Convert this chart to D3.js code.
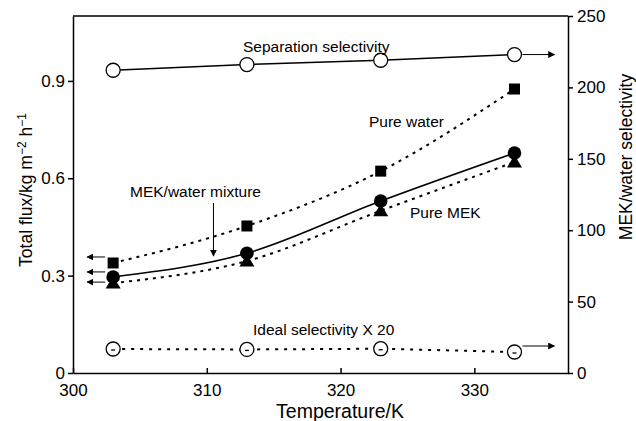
<!DOCTYPE html>
<html lang="en">
<head>
  <meta charset="UTF-8" />
  <title>Flux and selectivity vs temperature</title>
  <script src="https://d3js.org/d3.v7.min.js"></script>
  <style>
    body { margin: 0; background: #fff; }
    svg { display: block; font-family: "Liberation Sans", Arial, sans-serif; }
    .axis path, .axis line { stroke: #000; stroke-width: 1.5px; }
    .axis text { font-size: 17px; fill: #000; }
    .note { font-size: 15.5px; fill: #000; }
    .title { font-size: 19.5px; fill: #000; }
  </style>
</head>
<body>
  <svg id="chart" width="636" height="421"></svg>
  <script>
    // temperatures (K)
    const temps = [303, 313, 323, 333];
    // left axis: total flux, kg m-2 h-1
    const pureWater = [0.339, 0.453, 0.622, 0.875];
    const mixture   = [0.296, 0.369, 0.530, 0.678];
    const pureMEK   = [0.277, 0.345, 0.500, 0.650];
    // right axis: MEK/water selectivity
    const sepSel   = [212, 216, 219, 223];
    const idealSel = [16.8, 16.5, 17, 14.7];

    const xTicks = [300, 310, 320, 330];
    const yLeftTicks = [0, 0.3, 0.6, 0.9];
    const yRightTicks = [0, 50, 100, 150, 200, 250];

    const svg = d3.select("#chart");
    const plotL = 73, plotR = 568, plotT = 16, plotB = 373;

    const x = d3.scaleLinear().domain([300, 337]).range([plotL, plotR]);
    const yL = d3.scaleLinear().domain([0, 1.1]).range([plotB, plotT]);
    const yR = d3.scaleLinear().domain([0, 250]).range([plotB, plotT]);

    // arrow head
    svg.append("defs").append("marker")
      .attr("id", "head")
      .attr("viewBox", "0 0 10 10")
      .attr("refX", 9).attr("refY", 5)
      .attr("markerWidth", 7).attr("markerHeight", 7)
      .attr("markerUnits", "userSpaceOnUse")
      .attr("orient", "auto")
      .append("path").attr("d", "M0,0 L10,5 L0,10 Z").attr("fill", "#000");

    // frame top line
    svg.append("line")
      .attr("x1", plotL).attr("x2", plotR).attr("y1", plotT).attr("y2", plotT)
      .attr("stroke", "#000").attr("stroke-width", 1.5);

    // axes
    svg.append("g").attr("class", "axis")
      .attr("transform", `translate(0,${plotB})`)
      .call(d3.axisBottom(x).tickValues(xTicks).tickSize(-5).tickPadding(11).tickSizeOuter(0));

    svg.append("g").attr("class", "axis")
      .attr("transform", `translate(${plotL},0)`)
      .call(d3.axisLeft(yL).tickValues(yLeftTicks).tickSize(5).tickPadding(3).tickSizeOuter(0)
        .tickFormat(d => d === 0 ? "0" : d3.format(".1f")(d)));

    svg.append("g").attr("class", "axis")
      .attr("transform", `translate(${plotR},0)`)
      .call(d3.axisRight(yR).tickValues(yRightTicks).tickSize(5).tickPadding(4).tickSizeOuter(0));

    // axis titles
    svg.append("text").attr("class", "title")
      .attr("x", 340).attr("y", 418).attr("text-anchor", "middle")
      .text("Temperature/K");

    const lt = svg.append("text").attr("class", "title")
      .attr("transform", "translate(32,190) rotate(-90)")
      .attr("text-anchor", "middle").style("font-size", "17.5px");
    lt.append("tspan").text("Total flux/kg m");
    lt.append("tspan").attr("dy", -6).style("font-size", "12px").text("\u22122");
    lt.append("tspan").attr("dy", 6).text(" h");
    lt.append("tspan").attr("dy", -6).style("font-size", "12px").text("\u22121");

    svg.append("text").attr("class", "title")
      .attr("transform", "translate(632,157) rotate(-90)")
      .attr("text-anchor", "middle").style("font-size", "17.5px")
      .text("MEK/water selectivity");

    // lines
    const lineL = vals => d3.line().x((d, i) => x(temps[i])).y(d => yL(d)).curve(d3.curveMonotoneX)(vals);
    const lineR = vals => d3.line().x((d, i) => x(temps[i])).y(d => yR(d))(vals);

    svg.append("path").attr("d", lineL(pureWater)).attr("fill", "none")
      .attr("stroke", "#000").attr("stroke-width", 2).attr("stroke-dasharray", "3,5");
    svg.append("path").attr("d", lineL(pureMEK)).attr("fill", "none")
      .attr("stroke", "#000").attr("stroke-width", 2).attr("stroke-dasharray", "3,5");
    svg.append("path").attr("d", lineL(mixture)).attr("fill", "none")
      .attr("stroke", "#000").attr("stroke-width", 1.6);
    svg.append("path").attr("d", lineR(sepSel)).attr("fill", "none")
      .attr("stroke", "#000").attr("stroke-width", 1.5);
    svg.append("path").attr("d", lineR(idealSel)).attr("fill", "none")
      .attr("stroke", "#000").attr("stroke-width", 2).attr("stroke-dasharray", "3,6");

    // markers
    svg.append("g").selectAll("rect").data(pureWater).join("rect")
      .attr("x", (d, i) => x(temps[i]) - 5.5).attr("y", d => yL(d) - 5.5)
      .attr("width", 11).attr("height", 11).attr("fill", "#000");

    svg.append("g").selectAll("path").data(pureMEK).join("path")
      .attr("transform", (d, i) => `translate(${x(temps[i])},${yL(d)})`)
      .attr("d", "M0,-7 L7.5,5.5 L-7.5,5.5 Z").attr("fill", "#000");

    svg.append("g").selectAll("circle").data(mixture).join("circle")
      .attr("cx", (d, i) => x(temps[i])).attr("cy", d => yL(d))
      .attr("r", 6.8).attr("fill", "#000");

    svg.append("g").selectAll("circle").data(sepSel).join("circle")
      .attr("cx", (d, i) => x(temps[i])).attr("cy", d => yR(d))
      .attr("r", 7).attr("fill", "#fff").attr("stroke", "#000").attr("stroke-width", 1.3);

    const ideal = svg.append("g").selectAll("g").data(idealSel).join("g")
      .attr("transform", (d, i) => `translate(${x(temps[i])},${yR(d)})`);
    ideal.append("circle").attr("r", 7).attr("fill", "#fff")
      .attr("stroke", "#000").attr("stroke-width", 1.3);
    ideal.append("line").attr("x1", -2).attr("x2", 2).attr("y1", 1).attr("y2", 1)
      .attr("stroke", "#000").attr("stroke-width", 1.3);

    // arrows
    const arrow = (x1, y1, x2, y2) => svg.append("line")
      .attr("x1", x1).attr("y1", y1).attr("x2", x2).attr("y2", y2)
      .attr("stroke", "#000").attr("stroke-width", 1).attr("marker-end", "url(#head)");

    const last = temps.length - 1;
    arrow(x(temps[last]) + 8, yR(sepSel[last]), x(temps[last]) + 40, yR(sepSel[last]));
    arrow(x(temps[last]) + 8, yR(idealSel[last]) - 6, x(temps[last]) + 40, yR(idealSel[last]) - 6);
    arrow(x(temps[0]) - 8, yL(pureWater[0]) - 6, x(temps[0]) - 26, yL(pureWater[0]) - 6);
    arrow(x(temps[0]) - 8, yL(mixture[0]) - 5, x(temps[0]) - 26, yL(mixture[0]) - 5);
    arrow(x(temps[0]) - 8, yL(pureMEK[0]) - 1, x(temps[0]) - 26, yL(pureMEK[0]) - 1);
    arrow(x(310.5), 203, x(310.5), 256);

    // labels
    svg.append("text").attr("class", "note").attr("x", 243).attr("y", 52).text("Separation selectivity");
    svg.append("text").attr("class", "note").attr("x", 369).attr("y", 127).text("Pure water");
    svg.append("text").attr("class", "note").attr("x", 130).attr("y", 197).text("MEK/water mixture");
    svg.append("text").attr("class", "note").attr("x", 410).attr("y", 218).text("Pure MEK");
    svg.append("text").attr("class", "note").attr("x", 253).attr("y", 335).text("Ideal selectivity X 20");
  </script>
</body>
</html>
